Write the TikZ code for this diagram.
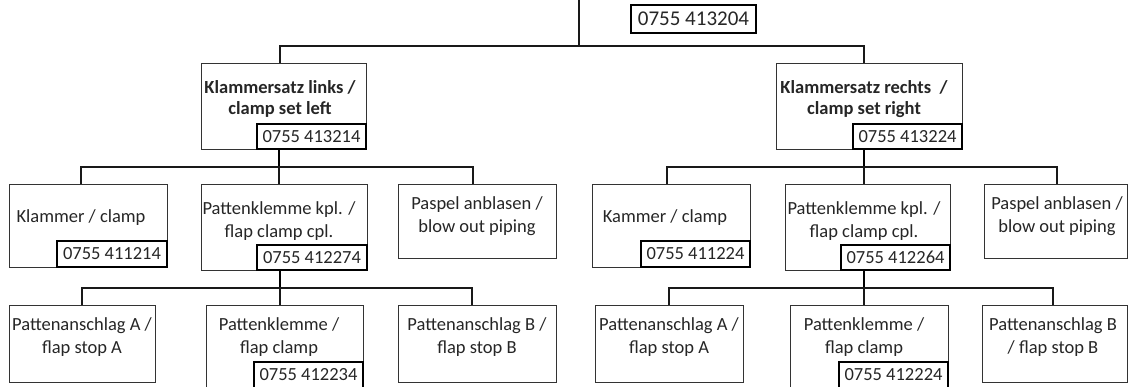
\documentclass[tikz,border=0pt]{standalone}
\usepackage{fontspec}
\setmainfont{Carlito}
\begin{document}
\begin{tikzpicture}[x=1pt,y=-1pt]
\tikzset{
  box/.style={draw=black!80, line width=1pt, inner sep=0pt, outer sep=0pt, anchor=north west},
  code/.style={draw=black, line width=2.2pt, fill=white, inner sep=0pt, outer sep=0pt, anchor=south east,
    minimum width=110pt, minimum height=26pt, text=black!85, font=\fontsize{18.5}{22}\selectfont},
  lbl/.style={align=center, inner sep=0pt, text=black!85, font=\fontsize{18.5}{22.5}\selectfont},
  blbl/.style={lbl, font=\fontsize{18.5}{20.5}\selectfont\bfseries},
  conn/.style={draw=black!90, line width=1.2pt},
  trunk/.style={draw=black, line width=2pt},
}
\useasboundingbox (0,0) rectangle (1128,386);
\clip (0,0) rectangle (1128,386);
\fill[white] (0,0) rectangle (1128,386);

% top
\node[code, anchor=north west, minimum width=125pt, minimum height=28pt,
      font=\fontsize{21}{25}\selectfont] (k0) at (631,5) {0755 413204};
\coordinate (p0) at (579,-2);
\coordinate (j0) at (579,46);

% level 2
\node[box, minimum width=165pt, minimum height=86pt] (l2a) at (201,63) {};
\node[blbl] (l2a-txt) at (280,99) {Klammersatz links /\\clamp set left};
\node[code, minimum width=109pt, minimum height=25pt] (k2a) at (l2a.south east) {0755 413214};

\node[box, minimum width=186pt, minimum height=86pt] (l2b) at (776,63) {};
\node[blbl] (l2b-txt) at (864,99) {Klammersatz rechts \ /\\clamp set right};
\node[code, minimum width=109pt, minimum height=25pt] (k2b) at (l2b.south east) {0755 413224};

% level 3 left
\node[box, minimum width=158pt, minimum height=83pt] (a1) at (9,184) {};
\node[lbl] (a1-txt) at (81,218) {Klammer / clamp};
\node[code] (ka1) at (a1.south east) {0755 411214};

\node[box, minimum width=166pt, minimum height=86pt] (a2) at (201,184) {};
\node[lbl] (a2-txt) at (279,221) {Pattenklemme kpl. /\\flap clamp cpl.};
\node[code, minimum height=25pt] (ka2) at (a2.south east) {0755 412274};

\node[box, minimum width=158pt, minimum height=74pt] (a3) at (398,184) {};
\node[lbl] (a3-txt) at (477,216) {Paspel anblasen /\\blow out piping};

% level 3 right
\node[box, minimum width=158pt, minimum height=83pt] (b1) at (592,184) {};
\node[lbl] (b1-txt) at (665,218) {Kammer / clamp};
\node[code, minimum width=109pt] (kb1) at (b1.south east) {0755 411224};

\node[box, minimum width=165pt, minimum height=86pt] (b2) at (785,184) {};
\node[lbl] (b2-txt) at (864,221) {Pattenklemme kpl. /\\flap clamp cpl.};
\node[code, minimum width=109pt, minimum height=25pt] (kb2) at (b2.south east) {0755 412264};

\node[box, minimum width=143pt, minimum height=74pt] (b3) at (984,184) {};
\node[lbl] (b3-txt) at (1057,216) {Paspel anblasen /\\blow out piping};

% level 4 left
\node[box, minimum width=146pt, minimum height=77pt] (c1) at (9,305) {};
\node[lbl] (c1-txt) at (82,337) {Pattenanschlag A /\\flap stop A};

\node[box, minimum width=157pt, minimum height=83pt] (c2) at (206,305) {};
\node[lbl] (c2-txt) at (279,337) {Pattenklemme /\\flap clamp};
\node[code, minimum width=109pt] (kc2) at (c2.south east) {0755 412234};

\node[box, minimum width=158pt, minimum height=77pt] (c3) at (398,305) {};
\node[lbl] (c3-txt) at (477,337) {Pattenanschlag B /\\flap stop B};

% level 4 right
\node[box, minimum width=148pt, minimum height=77pt] (d1) at (595,305) {};
\node[lbl] (d1-txt) at (669,337) {Pattenanschlag A /\\flap stop A};

\node[box, minimum width=158pt, minimum height=83pt] (d2) at (790,305) {};
\node[lbl] (d2-txt) at (864,337) {Pattenklemme /\\flap clamp};
\node[code, minimum width=109pt] (kd2) at (d2.south east) {0755 412224};

\node[box, minimum width=145pt, minimum height=77pt] (d3) at (982,305) {};
\node[lbl] (d3-txt) at (1053,337) {Pattenanschlag B\\/ flap stop B};

% connector attach points
\coordinate (l2a-t) at (280,63);  \coordinate (l2b-t) at (864,63);
\coordinate (l2a-b) at (279,149); \coordinate (l2b-b) at (864,149);
\coordinate (ha) at (279,167);    \coordinate (hb) at (864,167);
\coordinate (a1-t) at (81,184);   \coordinate (a2-t) at (279,184);  \coordinate (a3-t) at (473,184);
\coordinate (b1-t) at (667,184);  \coordinate (b2-t) at (864,184);  \coordinate (b3-t) at (1057,184);
\coordinate (a2-b) at (280,270);  \coordinate (b2-b) at (864,270);
\coordinate (hc) at (280,288);    \coordinate (hd) at (864,288);
\coordinate (c1-t) at (82,305);   \coordinate (c2-t) at (280,305);  \coordinate (c3-t) at (472,305);
\coordinate (d1-t) at (669,305);  \coordinate (d2-t) at (864,305);  \coordinate (d3-t) at (1053,305);

% connectors
\draw[conn] (p0) -- (j0);
\draw[conn] (l2a-t) |- (j0) -| (l2b-t);

\draw[trunk] (l2a-b) -- (ha);
\draw[conn] (ha) -- (a2-t);
\draw[conn] (a1-t) |- (ha) -| (a3-t);

\draw[trunk] (l2b-b) -- (hb);
\draw[conn] (hb) -- (b2-t);
\draw[conn] (b1-t) |- (hb) -| (b3-t);

\draw[trunk] (a2-b) -- (hc);
\draw[conn] (hc) -- (c2-t);
\draw[conn] (c1-t) |- (hc) -| (c3-t);

\draw[trunk] (b2-b) -- (hd);
\draw[conn] (hd) -- (d2-t);
\draw[conn] (d1-t) |- (hd) -| (d3-t);
\end{tikzpicture}
\end{document}
